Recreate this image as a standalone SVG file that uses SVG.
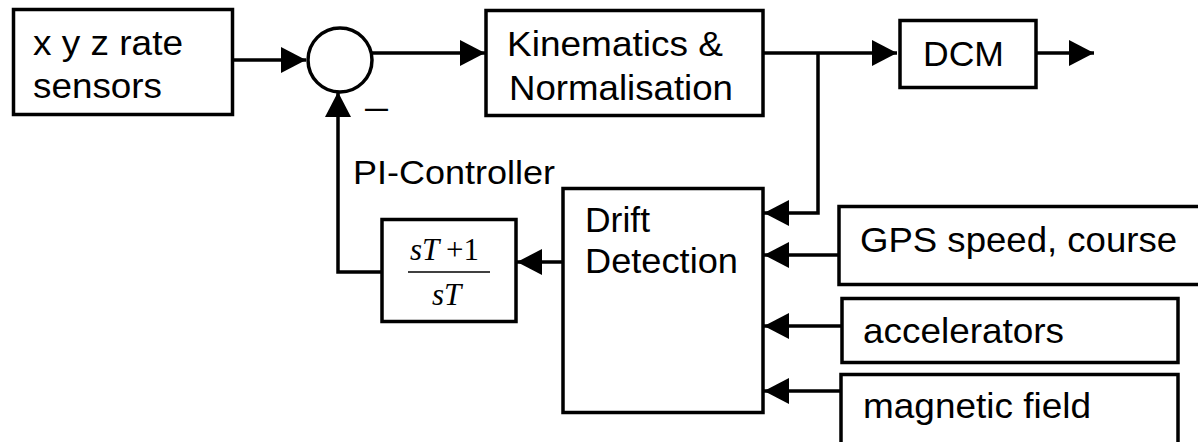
<svg xmlns="http://www.w3.org/2000/svg" width="1198" height="442" viewBox="0 0 1198 442">
<style>
.box{fill:#fff;stroke:#000;stroke-width:3.5}
.ln{fill:none;stroke:#000;stroke-width:3.5}
.t{font-family:"Liberation Sans",Arial,sans-serif;font-size:35px;fill:#000}
.m{font-family:"Liberation Serif","Times New Roman",serif;font-style:italic;font-size:31px;fill:#000}
.up{font-style:normal}
</style>
<defs>
<marker id="ah" markerUnits="userSpaceOnUse" markerWidth="26" markerHeight="27" refX="25" refY="13" orient="auto" viewBox="0 0 26 27">
<path d="M0,0 L25,13 L0,26 z" fill="#000"/>
</marker>
</defs>
<g id="connectors">
<line class="ln" x1="233" y1="60" x2="306" y2="60" marker-end="url(#ah)"/>
<line class="ln" x1="372" y1="53" x2="485" y2="53" marker-end="url(#ah)"/>
<line class="ln" x1="764" y1="53" x2="897" y2="53" marker-end="url(#ah)"/>
<line class="ln" x1="1037" y1="53" x2="1094" y2="53" marker-end="url(#ah)"/>
<polyline class="ln" points="818,53 818,213 764,213" marker-end="url(#ah)"/>
<line class="ln" x1="838" y1="255" x2="764" y2="255" marker-end="url(#ah)"/>
<line class="ln" x1="841" y1="326" x2="764" y2="326" marker-end="url(#ah)"/>
<line class="ln" x1="840" y1="391" x2="764" y2="391" marker-end="url(#ah)"/>
<line class="ln" x1="562" y1="262" x2="517" y2="262" marker-end="url(#ah)"/>
<polyline class="ln" points="381,272 338,272 338,92" marker-end="url(#ah)"/>
</g>
<g id="sensors">
<rect class="box" x="13.5" y="9.5" width="219" height="105"/>
<text class="t" x="33" y="55" textLength="150" lengthAdjust="spacingAndGlyphs">x y z rate</text>
<text class="t" x="33" y="98" textLength="129" lengthAdjust="spacingAndGlyphs">sensors</text>
</g>
<g id="sum">
<circle cx="340" cy="60" r="32" fill="#fff" stroke="#000" stroke-width="3.5"/>
<text class="t" x="365" y="119" textLength="23" lengthAdjust="spacingAndGlyphs">–</text>
</g>
<g id="kinematics">
<rect class="box" x="486" y="10.5" width="277" height="105"/>
<text class="t" x="507" y="56" textLength="216" lengthAdjust="spacingAndGlyphs">Kinematics &amp;</text>
<text class="t" x="509" y="100" textLength="224" lengthAdjust="spacingAndGlyphs">Normalisation</text>
</g>
<g id="dcm">
<rect class="box" x="900" y="20.5" width="136" height="67"/>
<text class="t" x="923" y="66" textLength="81" lengthAdjust="spacingAndGlyphs">DCM</text>
</g>
<g id="pi">
<text class="t" x="353" y="184" style="font-size:33px" textLength="202" lengthAdjust="spacingAndGlyphs">PI-Controller</text>
<rect class="box" x="382" y="219.5" width="134" height="102"/>
<text class="m" x="410" y="260">sT <tspan class="up" x="446">+1</tspan></text>
<line x1="408" y1="272" x2="490" y2="272" stroke="#000" stroke-width="1.5"/>
<text class="m" x="432" y="305">sT</text>
</g>
<g id="drift">
<rect class="box" x="563" y="188.5" width="200" height="224"/>
<text class="t" x="585" y="232" textLength="65" lengthAdjust="spacingAndGlyphs">Drift</text>
<text class="t" x="585" y="273" textLength="153" lengthAdjust="spacingAndGlyphs">Detection</text>
</g>
<g id="gps">
<rect class="box" x="839" y="206.5" width="365" height="78"/>
<text class="t" x="860" y="252" textLength="317" lengthAdjust="spacingAndGlyphs">GPS speed, course</text>
</g>
<g id="accelerators">
<rect class="box" x="842" y="298.5" width="336" height="64"/>
<text class="t" x="863" y="343" textLength="201" lengthAdjust="spacingAndGlyphs">accelerators</text>
</g>
<g id="magnetic">
<rect class="box" x="841" y="374.5" width="337" height="80"/>
<text class="t" x="863" y="418" textLength="228" lengthAdjust="spacingAndGlyphs">magnetic field</text>
</g>
</svg>
